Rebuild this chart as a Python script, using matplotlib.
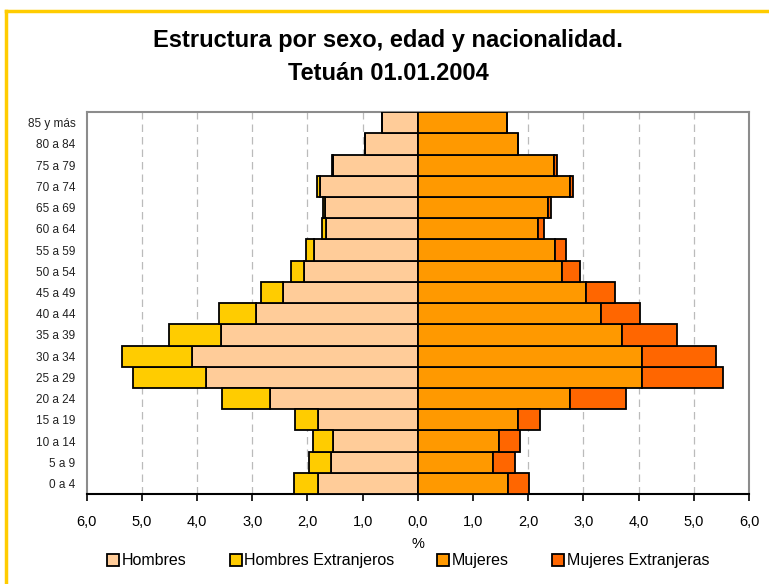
import matplotlib
matplotlib.use("Agg")
import matplotlib.pyplot as plt
from matplotlib.lines import Line2D
from matplotlib.ticker import FuncFormatter
import numpy as np

plt.rcParams['font.family'] = ['Liberation Sans', 'DejaVu Sans']

ages = ["0 a 4", "5 a 9", "10 a 14", "15 a 19", "20 a 24", "25 a 29", "30 a 34",
        "35 a 39", "40 a 44", "45 a 49", "50 a 54", "55 a 59", "60 a 64", "65 a 69",
        "70 a 74", "75 a 79", "80 a 84", "85 y más"]

hombres = [1.80, 1.58, 1.54, 1.81, 2.68, 3.83, 4.10, 3.56, 2.94, 2.45, 2.06, 1.89,
           1.66, 1.68, 1.77, 1.53, 0.95, 0.65]
hombres_ext = [0.44, 0.40, 0.36, 0.41, 0.87, 1.33, 1.26, 0.95, 0.66, 0.40, 0.24, 0.14,
               0.08, 0.04, 0.06, 0.03, 0.00, 0.00]
mujeres = [1.64, 1.37, 1.47, 1.81, 2.76, 4.06, 4.06, 3.69, 3.32, 3.04, 2.61, 2.48,
           2.17, 2.35, 2.75, 2.47, 1.82, 1.61]
mujeres_ext = [0.38, 0.39, 0.38, 0.41, 1.02, 1.46, 1.35, 1.00, 0.71, 0.54, 0.33, 0.21,
               0.11, 0.07, 0.06, 0.05, 0.00, 0.00]

c_h, c_he, c_m, c_me = "#FFCC99", "#FFCC00", "#FF9900", "#FF6600"

fig = plt.figure(figsize=(7.69, 5.84), dpi=100)
ax = fig.add_axes([0.1127, 0.154, 0.974 - 0.1127, 0.808 - 0.154])

y = np.arange(len(ages))
h = np.array(hombres); he = np.array(hombres_ext)
m = np.array(mujeres); me = np.array(mujeres_ext)
kw = dict(height=1.0, edgecolor="black", linewidth=1.3, zorder=3)
ax.barh(y, -h, color=c_h, **kw)
ax.barh(y, -he, left=-h, color=c_he, **kw)
ax.barh(y, m, color=c_m, **kw)
ax.barh(y, me, left=m, color=c_me, **kw)

ax.set_xlim(-6, 6)
ax.set_ylim(-0.5, len(ages) - 0.5)
ax.set_yticks(y)
ax.set_yticklabels(ages, fontsize=8.5, color="#222222")
ax.tick_params(axis='y', length=0, pad=8)
ax.set_xticks(np.arange(-6, 7, 1))
ax.xaxis.set_major_formatter(FuncFormatter(lambda v, p: f"{abs(v):.1f}".replace(".", ",")))
ax.tick_params(axis='x', direction='out', length=5, width=1.2, labelsize=10.5, pad=10)

for xv in range(-5, 6):
    if xv == 0:
        continue
    ax.axvline(xv, color="#BBBBBB", linestyle=(0, (6, 4)), linewidth=0.9, zorder=1)

for s in ["left", "right", "top"]:
    ax.spines[s].set_color("#8C8C8C")
    ax.spines[s].set_linewidth(1.5)
ax.spines["bottom"].set_color("black")
ax.spines["bottom"].set_linewidth(1.5)

ax.set_xlabel("%", fontsize=10.5, labelpad=6)

fig.text(0.505, 0.930, "Estructura por sexo, edad y nacionalidad.", ha="center", va="center",
         fontsize=17, fontweight="bold")
fig.text(0.505, 0.874, "Tetuán 01.01.2004", ha="center", va="center",
         fontsize=17, fontweight="bold")

handles = [Line2D([], [], marker="s", linestyle="none", markersize=8,
                  markerfacecolor=c, markeredgecolor="black", markeredgewidth=1.3)
           for c in (c_h, c_he, c_m, c_me)]
labels = ["Hombres", "Hombres Extranjeros", "Mujeres", "Mujeres Extranjeras"]
fig.legend(handles, labels, loc="center", bbox_to_anchor=(0.530, 0.040), ncol=4,
           frameon=False, fontsize=11.5, handletextpad=0.1, columnspacing=2.6,
           handlelength=0.9)

# yellow outer border (left and top visible)
fig.add_artist(Line2D([0.0078, 0.0078], [0.0, 0.982], transform=fig.transFigure,
                      color="#FFCC00", linewidth=2.5))
fig.add_artist(Line2D([0.0078, 1.0], [0.982, 0.982], transform=fig.transFigure,
                      color="#FFCC00", linewidth=2.5))

fig.savefig("out.png", dpi=100)
